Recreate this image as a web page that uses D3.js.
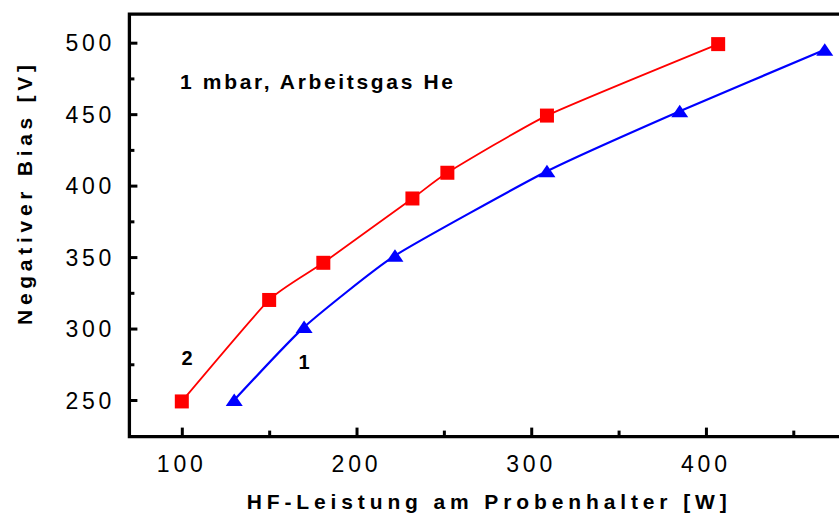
<!DOCTYPE html>
<html>
<head>
<meta charset="utf-8">
<script src="https://cdn.jsdelivr.net/npm/d3@7"></script>
<style>
  html, body { margin: 0; padding: 0; background: #fff; overflow: hidden; }
  svg { display: block; font-family: "Liberation Sans", Arial, sans-serif; }
</style>
</head>
<body>
<svg id="chart" width="839" height="514"></svg>
<script>
// Series 2 (red squares)
const powerRed = [100, 150, 181, 232, 252, 309, 407];
const biasRed  = [249, 320, 346, 391, 409, 449, 499];
// Series 1 (blue triangles)
const powerBlue = [130, 170, 222, 309, 385, 468];
const biasBlue  = [250, 301, 351, 410, 452, 495];

const xMajorTicks = [100, 200, 300, 400];
const xMinorTicks = [150, 250, 350, 450];
const yMajorTicks = [250, 300, 350, 400, 450, 500];
const yMinorTicks = [275, 325, 375, 425, 475];

const xTitle = "HF-Leistung am Probenhalter [W]";
const yTitle = "Negativer Bias [V]";
const note = "1 mbar, Arbeitsgas He";
const seriesLabels = ["2", "1"];

const svg = d3.select("#chart");

const x = d3.scaleLinear().domain([70, 480]).range([129.4, 845.7]);
const y = d3.scaleLinear().domain([224.4, 520]).range([436.6, 14.1]);

const x0 = x.range()[0], y0 = y.range()[0], yTop = y.range()[1];

// minor ticks (no labels)
svg.append("g")
  .attr("transform", `translate(0,${y0})`)
  .call(d3.axisBottom(x).tickValues(xMinorTicks).tickSize(-6).tickFormat(""))
  .call(g => g.select(".domain").remove())
  .call(g => g.selectAll("line").attr("stroke", "#000").attr("stroke-width", 3));
svg.append("g")
  .attr("transform", `translate(${x0},0)`)
  .call(d3.axisLeft(y).tickValues(yMinorTicks).tickSize(-5).tickFormat(""))
  .call(g => g.select(".domain").remove())
  .call(g => g.selectAll("line").attr("stroke", "#000").attr("stroke-width", 3));

// major ticks with labels
svg.append("g")
  .attr("transform", `translate(0,${y0})`)
  .call(d3.axisBottom(x).tickValues(xMajorTicks).tickSize(-9).tickPadding(0).tickFormat(d3.format("d")))
  .call(g => g.select(".domain").remove())
  .call(g => g.selectAll("line").attr("stroke", "#000").attr("stroke-width", 3))
  .call(g => g.selectAll("text")
    .attr("y", 35).attr("dy", 0).attr("x", -2.5)
    .attr("fill", "#000")
    .style("font-size", "23px")
    .attr("textLength", 46).attr("lengthAdjust", "spacing"));

svg.append("g")
  .attr("transform", `translate(${x0},0)`)
  .call(d3.axisLeft(y).tickValues(yMajorTicks).tickSize(-8).tickPadding(0).tickFormat(d3.format("d")))
  .call(g => g.select(".domain").remove())
  .call(g => g.selectAll("line").attr("stroke", "#000").attr("stroke-width", 3))
  .call(g => g.selectAll("text")
    .attr("x", -18).attr("dy", "0.36em")
    .attr("fill", "#000")
    .style("font-size", "23px")
    .attr("textLength", 46).attr("lengthAdjust", "spacing"));

// frame: top, left, bottom (right side runs past the edge)
svg.append("path")
  .attr("d", `M${x.range()[1]},${yTop} H${x0} V${y0} H${x.range()[1]}`)
  .attr("fill", "none")
  .attr("stroke", "#000")
  .attr("stroke-width", 3.3);

// smooth curves through the measured points
const redPts = powerRed.map((p, i) => [p, biasRed[i]]);
const bluePts = powerBlue.map((p, i) => [p, biasBlue[i]]);
const line = d3.line().x(d => x(d[0])).y(d => y(d[1])).curve(d3.curveCardinal.tension(0.5));

svg.append("path").datum(redPts)
  .attr("d", line).attr("fill", "none").attr("stroke", "#ff0000")
  .attr("stroke-width", 1.8).attr("stroke-linejoin", "round");
svg.append("path").datum(bluePts)
  .attr("d", line).attr("fill", "none").attr("stroke", "#0000ff")
  .attr("stroke-width", 2.2).attr("stroke-linejoin", "round");

// markers
svg.append("g").selectAll("rect").data(redPts).join("rect")
  .attr("x", d => x(d[0]) - 7).attr("y", d => y(d[1]) - 7)
  .attr("width", 14).attr("height", 14)
  .attr("fill", "#ff0000");

const tri = "M0,-6.5 L8.5,6 L-8.5,6 Z";
svg.append("g").selectAll("path").data(bluePts).join("path")
  .attr("transform", d => `translate(${x(d[0])},${y(d[1])})`)
  .attr("d", tri)
  .attr("fill", "#0000ff");

// texts
svg.append("text")
  .attr("x", 180).attr("y", 89)
  .attr("font-weight", "bold").style("font-size", "21px")
  .attr("textLength", 273).attr("lengthAdjust", "spacing")
  .text(note);

svg.append("text")
  .attr("x", 187).attr("y", 365).attr("text-anchor", "middle")
  .attr("font-weight", "bold").style("font-size", "20px")
  .text(seriesLabels[0]);
svg.append("text")
  .attr("x", 304).attr("y", 369).attr("text-anchor", "middle")
  .attr("font-weight", "bold").style("font-size", "20px")
  .text(seriesLabels[1]);

svg.append("text")
  .attr("x", 486.7).attr("y", 509)
  .attr("text-anchor", "middle")
  .attr("font-weight", "bold").style("font-size", "21px")
  .attr("textLength", 480).attr("lengthAdjust", "spacing")
  .text(xTitle);

svg.append("text")
  .attr("transform", "translate(31.5,195) rotate(-90)")
  .attr("text-anchor", "middle")
  .attr("font-weight", "bold").style("font-size", "21px")
  .attr("textLength", 260).attr("lengthAdjust", "spacing")
  .text(yTitle);
</script>
</body>
</html>
